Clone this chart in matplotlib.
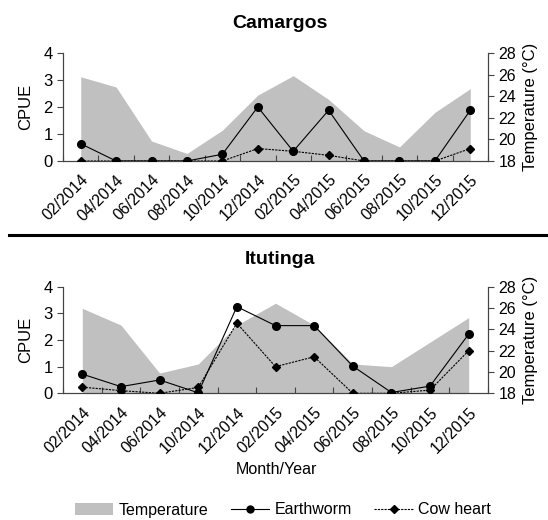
import numpy as np
import matplotlib.pyplot as plt
from matplotlib.patches import Patch
from matplotlib.lines import Line2D

plt.rcParams['font.family'] = ['Liberation Sans', 'DejaVu Sans']

# Camargos
cam_months = ['02/2014', '04/2014', '06/2014', '08/2014', '10/2014', '12/2014',
              '02/2015', '04/2015', '06/2015', '08/2015', '10/2015', '12/2015']
cam_temp = [25.8, 24.85, 19.85, 18.7, 20.85, 24.1, 25.9, 23.7, 20.8, 19.3, 22.5, 24.7]
cam_worm = [0.64, 0, 0, 0, 0.25, 2.0, 0.36, 1.88, 0, 0, 0, 1.88]
cam_heart = [0, 0, 0, 0, 0, 0.46, 0.36, 0.21, 0, 0, 0, 0.46]

# Itutinga
itu_months = ['02/2014', '04/2014', '06/2014', '10/2014', '12/2014', '02/2015',
              '04/2015', '06/2015', '08/2015', '10/2015', '12/2015']
itu_temp = [25.97, 24.4, 19.9, 20.75, 24.4, 26.45, 24.4, 20.75, 20.5, 22.8, 25.1]
itu_worm = [0.72, 0.25, 0.5, 0.02, 3.25, 2.54, 2.54, 1.02, 0.03, 0.27, 2.22]
itu_heart = [0.23, 0.1, 0, 0.22, 2.63, 1.0, 1.37, 0, 0, 0.12, 1.6]

FILL = '#c0c0c0'
W, H = 548, 520


def panel(rect, months, temp, worm, heart):
    ax = fig.add_axes(rect)
    ax2 = ax.twinx()
    x = np.arange(len(months))
    ax2.fill_between(x, 18, temp, color=FILL, linewidth=0)
    ax.plot(x, worm, color='black', lw=0.8, marker='o', ms=5.5, zorder=3)
    ax.plot(x, heart, color='black', lw=0.8, ls=(0, (2, 1)), marker='D', ms=4.2, zorder=3)
    ax.set_zorder(ax2.get_zorder() + 1)
    ax.patch.set_visible(False)

    ax.set_xlim(-0.5, len(months) - 0.5)
    ax.set_ylim(0, 4)
    ax2.set_ylim(18, 28)
    ax.set_yticks([0, 1, 2, 3, 4])
    ax2.set_yticks([18, 20, 22, 24, 26, 28])
    ax.set_xticks(x)
    ax.set_xticklabels(months, rotation=45, ha='right', rotation_mode='anchor', fontsize=11.5)
    ax.set_xticks(np.arange(len(months) + 1) - 0.5, minor=True)
    ax.tick_params(axis='x', which='major', length=0, pad=8)
    ax.tick_params(axis='x', which='minor', direction='in', length=4, width=0.8, color='#444444')
    ax.tick_params(axis='y', direction='out', length=4, width=0.8, labelsize=12, color='#444444')
    ax2.tick_params(axis='y', direction='out', length=4, width=0.8, labelsize=11.5, color='#444444')
    for a in (ax, ax2):
        a.spines['top'].set_visible(False)
        for s in ('left', 'right', 'bottom'):
            a.spines[s].set_linewidth(0.8)
            a.spines[s].set_color('#444444')
    ax.set_ylabel('CPUE', fontsize=12, labelpad=7)
    ax2.set_ylabel('Temperature (°C)', fontsize=12, labelpad=5)
    return ax


fig = plt.figure(figsize=(W / 100, H / 100), dpi=100)

left, right = 63 / W, 488 / W
panel([left, 1 - 161 / H, right - left, 108 / H], cam_months, cam_temp, cam_worm, cam_heart)
panel([left, 1 - 393.3 / H, right - left, 106.6 / H], itu_months, itu_temp, itu_worm, itu_heart)

fig.text(280 / W, 1 - 23 / H, 'Camargos', ha='center', va='center', fontsize=14, fontweight='bold')
fig.text(280 / W, 1 - 259 / H, 'Itutinga', ha='center', va='center', fontsize=14, fontweight='bold')
fig.text(276 / W, 1 - 470 / H, 'Month/Year', ha='center', va='center', fontsize=11.5)

fig.add_artist(Line2D([9 / W, 1], [1 - 235 / H, 1 - 235 / H], color='black', lw=2.2))

handles = [Patch(color=FILL, linewidth=0),
           Line2D([], [], color='black', lw=0.8, marker='o', ms=5),
           Line2D([], [], color='black', lw=0.8, ls=(0, (2, 1)), marker='D', ms=4)]
fig.legend(handles, ['Temperature', 'Earthworm', 'Cow heart'], loc='center',
           bbox_to_anchor=(283 / W, 1 - 510 / H), ncol=3, frameon=False, fontsize=11.5,
           handlelength=2.4, columnspacing=1.4, handletextpad=0.35)

fig.savefig('out.png', dpi=100)
